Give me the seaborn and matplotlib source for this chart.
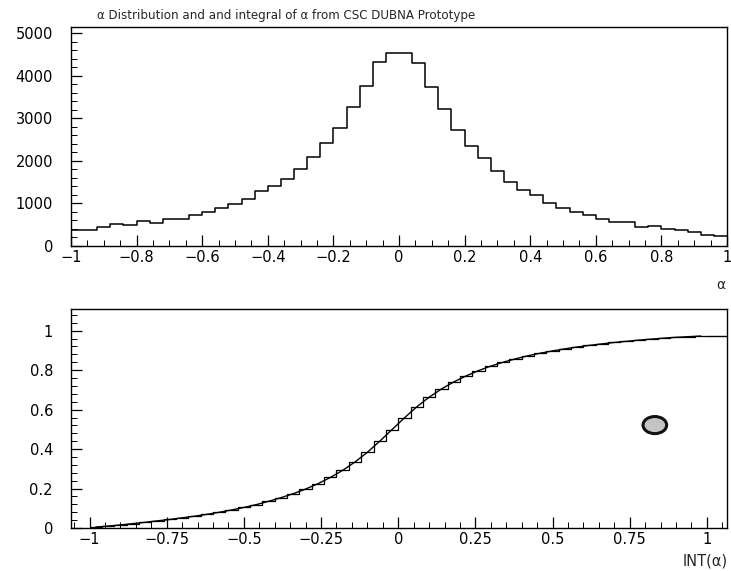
import numpy as np
import pandas as pd
import matplotlib
matplotlib.use("Agg")
import matplotlib.pyplot as plt
from matplotlib.patches import Ellipse
from matplotlib.ticker import MultipleLocator
import seaborn as sns

# Histogram of alpha: 50 bins of width 0.04 on [-1, 1]
bin_edges = list(np.round(np.linspace(-1.0, 1.0, 51), 4))
alpha_counts = [
    376, 370, 456, 510, 494, 588, 533, 643, 627, 729,
    800, 902, 980, 1098, 1293, 1411, 1568, 1803, 2092, 2415,
    2783, 3268, 3761, 4326, 4550,
    4550, 4300, 3740, 3231, 2738, 2347, 2058, 1768, 1509, 1314,
    1197, 1002, 899, 806, 728, 634, 571, 556, 439, 469,
    392, 375, 321, 258, 235,
]
# Total number of entries, including those outside [-1, 1]
n_entries = 76900

title_text = "\u03b1 Distribution and and integral of \u03b1 from CSC DUBNA Prototype"
top_yticks = [0, 1000, 2000, 3000, 4000, 5000]
top_xticks = [-1, -0.8, -0.6, -0.4, -0.2, 0, 0.2, 0.4, 0.6, 0.8, 1]
bot_yticks = [0, 0.2, 0.4, 0.6, 0.8, 1]
bot_xticks = [-1, -0.75, -0.5, -0.25, 0, 0.25, 0.5, 0.75, 1]

edges_arr = np.array(bin_edges)
centers = 0.5 * (edges_arr[:-1] + edges_arr[1:])
df = pd.DataFrame({"alpha": centers, "count": alpha_counts})
df["frac"] = df["count"] / n_entries
df["integral"] = df["frac"].cumsum()

sns.set_theme(style="ticks")
plt.rcParams["font.family"] = ["DejaVu Sans"]

W, H = 731, 571
fig = plt.figure(figsize=(W / 100, H / 100), dpi=100)
fig.patch.set_facecolor("white")

def frac_box(x0, y0, x1, y1):
    return [x0 / W, 1 - y1 / H, (x1 - x0) / W, (y1 - y0) / H]

ax1 = fig.add_axes(frac_box(71, 27, 727, 246))
ax2 = fig.add_axes(frac_box(71, 309, 727, 528))

def fmt(v):
    return f"{v:g}".replace("-", "\u2212")

# --- top: alpha distribution ---
sns.histplot(data=df, x="alpha", weights="count", bins=bin_edges,
             element="step", fill=False, color="black", linewidth=1.1, ax=ax1)
ax1.set_xlim(-1, 1)
ax1.set_ylim(0, 5150)
ax1.set_xticks(top_xticks)
ax1.set_xticklabels([fmt(v) for v in top_xticks])
ax1.set_yticks(top_yticks)
ax1.set_yticklabels([fmt(v) for v in top_yticks])
ax1.xaxis.set_minor_locator(MultipleLocator(0.05))
ax1.yaxis.set_minor_locator(MultipleLocator(200))

# --- bottom: normalised integral ---
sns.histplot(data=df, x="alpha", weights="frac", bins=bin_edges, cumulative=True,
             element="step", fill=False, color="black", linewidth=0.9, ax=ax2)
sns.lineplot(data=df, x="alpha", y="integral", color="black", linewidth=1.0, ax=ax2)
ax2.set_xlim(-1.06, 1.065)
ax2.plot([bin_edges[-1], ax2.get_xlim()[1]], [df["integral"].iloc[-1]] * 2,
         color="black", linewidth=1.0)
ax2.set_ylim(0, 1.11)
ax2.set_xticks(bot_xticks)
ax2.set_xticklabels([fmt(v) for v in bot_xticks])
ax2.set_yticks(bot_yticks)
ax2.set_yticklabels([fmt(v) for v in bot_yticks])
ax2.xaxis.set_minor_locator(MultipleLocator(0.05))
ax2.yaxis.set_minor_locator(MultipleLocator(0.04))

# smudge on the lower panel
ax2.add_patch(Ellipse((0.890, 0.47), 0.036, 0.078, transform=ax2.transAxes,
                      facecolor="#c4c4c4", edgecolor="#111111", linewidth=2.2))

for ax in (ax1, ax2):
    ax.set_xlabel("")
    ax.set_ylabel("")
    ax.set_facecolor("white")
    for s in ax.spines.values():
        s.set_visible(True)
        s.set_color("black")
        s.set_linewidth(1.0)
    ax.tick_params(axis="both", which="major", direction="in", length=8, width=0.9,
                   colors="black", labelsize=10.5, top=False, right=False)
    ax.tick_params(axis="both", which="minor", direction="in", length=4, width=0.7,
                   colors="black", top=False, right=False)
    ax.tick_params(axis="y", which="major", pad=13)
    ax.tick_params(axis="x", which="major", pad=3)
    ax.grid(False)

fig.text(286 / W, 1 - 15 / H, title_text, ha="center", va="center", fontsize=8.6)
fig.text(721 / W, 1 - 285 / H, "\u03b1", ha="center", va="center", fontsize=10)
fig.text(728 / W, 1 - 561 / H, "INT(\u03b1)", ha="right", va="center", fontsize=10.5)

fig.savefig("out.png", dpi=100, facecolor="white")
